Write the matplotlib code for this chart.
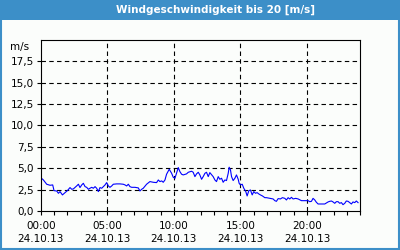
import matplotlib
matplotlib.use("Agg")
import matplotlib.pyplot as plt
from matplotlib.patches import Rectangle
from matplotlib.ticker import MultipleLocator

# wind speed readings, hours since 00:00 on 24.10.13
hours = [0.00, 0.20, 0.45, 0.70, 0.90, 1.00, 1.20, 1.33, 1.45, 1.63, 1.83, 2.00,
         2.20, 2.33, 2.45, 2.70, 2.83, 2.95, 3.08, 3.20, 3.33, 3.45, 3.58, 3.70,
         3.83, 3.95, 4.08, 4.20, 4.33, 4.45, 4.58, 4.70, 4.83, 4.95, 5.08, 5.20,
         5.33, 5.45, 5.70, 5.95, 6.20, 6.33, 6.45, 6.58, 6.70, 6.83, 7.08, 7.33,
         7.45, 7.58, 7.70, 7.95, 8.20, 8.45, 8.70, 8.83, 8.95, 9.08, 9.20, 9.33,
         9.45, 9.65, 9.83, 9.95, 10.08, 10.20, 10.33, 10.45, 10.58, 10.70, 10.95,
         11.08, 11.33, 11.45, 11.58, 11.70, 11.83, 11.95, 12.08, 12.20, 12.33,
         12.45, 12.58, 12.70, 12.95, 13.08, 13.20, 13.33, 13.45, 13.58, 13.70,
         13.83, 13.95, 14.08, 14.15, 14.25, 14.33, 14.45, 14.58, 14.70, 14.83,
         14.90, 15.00, 15.13, 15.25, 15.40, 15.50, 15.63, 15.75, 15.88, 16.00,
         16.13, 16.25, 16.38, 16.50, 16.65, 16.83, 16.95, 17.20, 17.45, 17.58,
         17.70, 17.83, 18.00, 18.15, 18.33, 18.45, 18.58, 18.70, 18.83, 18.95,
         19.15, 19.33, 19.58, 19.83, 20.08, 20.20, 20.33, 20.45, 20.58, 20.70,
         20.83, 21.08, 21.33, 21.58, 21.70, 21.83, 21.95, 22.08, 22.20, 22.33,
         22.45, 22.58, 22.70, 22.83, 22.95, 23.08, 23.20, 23.33, 23.45, 23.58,
         23.70, 23.83]
speed = [3.90, 3.63, 3.13, 3.01, 3.05, 2.38, 2.34, 2.07, 2.27, 1.88, 2.15, 2.38,
         2.74, 2.54, 2.58, 2.93, 3.13, 2.74, 3.05, 3.24, 2.85, 2.77, 2.54, 2.66,
         2.77, 2.66, 2.85, 2.66, 2.27, 2.74, 2.66, 2.85, 3.05, 3.32, 2.93, 2.77,
         2.93, 3.13, 3.17, 3.17, 3.13, 3.05, 2.93, 3.13, 2.85, 2.77, 2.77, 2.70,
         2.34, 2.54, 2.66, 3.13, 3.44, 3.36, 3.32, 3.63, 3.44, 3.52, 3.36, 3.63,
         4.30, 4.88, 4.41, 3.95, 3.83, 4.41, 5.08, 4.61, 4.30, 4.22, 4.34,
         4.53, 4.65, 4.53, 4.02, 4.34, 4.53, 4.22, 3.71, 4.02, 4.41,
         4.53, 4.02, 4.49, 4.02, 3.63, 3.44, 4.02, 3.71, 3.83, 3.36,
         3.63, 3.56, 4.41, 5.12, 4.80, 4.02, 3.56, 3.83, 4.22, 3.71,
         3.24, 3.05, 3.13, 2.66, 2.27, 1.76, 2.38, 2.46, 1.88, 2.27,
         2.07, 2.15, 1.99, 1.88, 1.76, 1.56, 1.56, 1.48, 1.41, 1.21,
         1.13, 1.45, 1.41, 1.56, 1.48, 1.29, 1.56, 1.41, 1.60, 1.41,
         1.48, 1.41, 1.21, 1.21, 1.21, 1.09, 1.13, 1.48, 1.29, 1.02,
         0.82, 0.82, 0.82, 1.06, 1.13, 1.17, 1.06, 0.90, 1.09, 1.09,
         0.90, 0.98, 0.74, 0.90, 1.17, 1.13, 0.98, 0.82, 1.06, 0.98,
         1.17, 0.98]

x_ticks = [0, 5, 10, 15, 20]
x_labels = ["00:00\n24.10.13", "05:00\n24.10.13", "10:00\n24.10.13",
            "15:00\n24.10.13", "20:00\n24.10.13"]
y_ticks = [0, 2.5, 5, 7.5, 10, 12.5, 15, 17.5]
y_labels = ["0,0", "2,5", "5,0", "7,5", "10,0", "12,5", "15,0", "17,5"]

title = "Windgeschwindigkeit bis 20 [m/s]"
blue = "#3c8fc8"
bg = "#fbfdfb"

fig = plt.figure(figsize=(4, 2.5), dpi=100, facecolor=bg)

# title bar and frame
fig.patches.append(Rectangle((0, 0.92), 1, 0.08, transform=fig.transFigure,
                             facecolor=blue, edgecolor="none", zorder=0))
fig.patches.append(Rectangle((0.002, 0.003), 0.996, 0.995, transform=fig.transFigure,
                             facecolor="none", edgecolor=blue, linewidth=1.5, zorder=1))
fig.text(0.54, 0.96, title, color="white", fontsize=7.5, fontweight="bold",
         ha="center", va="center")

ax = fig.add_axes([0.1018, 0.156, 0.799, 0.684])
ax.set_facecolor(bg)
ax.plot(hours, speed, color="#0000ff", linewidth=0.8)

ax.set_xlim(0, 24)
ax.set_ylim(0, 20)
ax.set_xticks(x_ticks)
ax.set_xticklabels(x_labels, fontsize=7.5, linespacing=1.4)
ax.xaxis.set_minor_locator(MultipleLocator(1))
ax.set_yticks(y_ticks)
ax.set_yticklabels(y_labels, fontsize=7.5)
ax.tick_params(axis="both", which="both", direction="out", length=3, width=0.8,
               pad=2, colors="black")
ax.tick_params(axis="x", which="major", pad=4)

# dashed grid, skip the zero line
for y in y_ticks[1:]:
    ax.axhline(y, color="black", linewidth=0.8, linestyle=(0, (4, 3)), zorder=1)
for x in x_ticks[1:]:
    ax.axvline(x, color="black", linewidth=0.8, linestyle=(0, (4, 3)), zorder=1)

for s in ax.spines.values():
    s.set_linewidth(0.8)
    s.set_color("black")

ax.text(-0.9, 19.2, "m/s", fontsize=7.5, ha="right", va="center")

fig.savefig("out.png", dpi=100, facecolor=bg)
